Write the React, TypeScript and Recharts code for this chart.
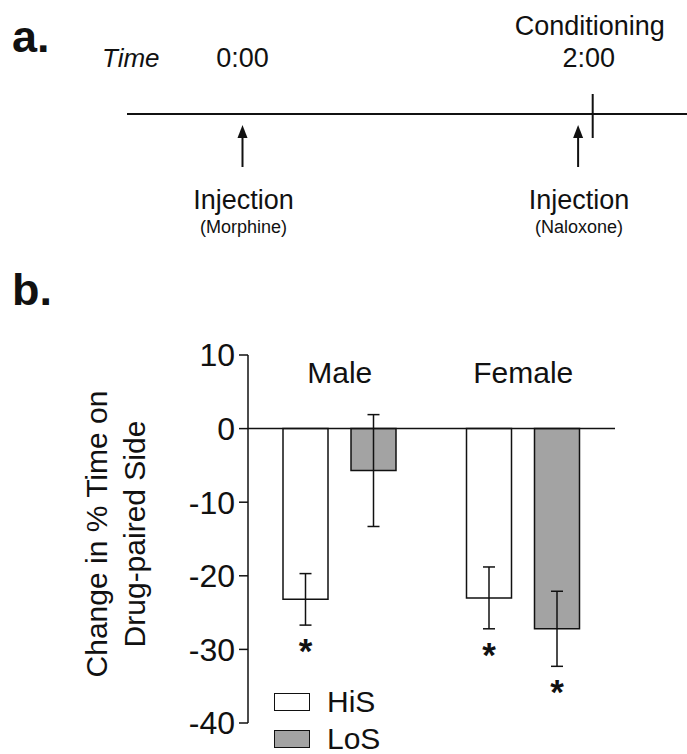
import React from 'react';
import { BarChart, Bar, XAxis, YAxis, ErrorBar, ReferenceLine, LabelList, Legend } from 'recharts';

// panel b data
const groups = ['Male', 'Female'];
const hisMean = [-23.2, -23.0];
const hisSem = [3.5, 4.2];
const losMean = [-5.7, -27.2];
const losSem = [7.6, 5.1];
const hisSig = [true, true];
const losSig = [false, true];
const yTicks = [-40, -30, -20, -10, 0, 10];

// panel a timeline (minutes)
const timeMarks = [
  { t: 0, label: '0:00', title: '' },
  { t: 120, label: '2:00', title: 'Conditioning' },
];
const injections = [
  { t: 0, name: 'Injection', drug: '(Morphine)' },
  { t: 115, name: 'Injection', drug: '(Naloxone)' },
];

const FONT = '"Liberation Sans", Arial, Helvetica, sans-serif';
const INK = '#111';
const GRAY = '#a3a3a3';

const data = groups.map((g, i) => ({
  group: g,
  HiS: hisMean[i],
  hisErr: hisSem[i],
  LoS: losMean[i],
  losErr: losSem[i],
}));

const timeToX = (t: number) => 242.5 + (t / 120) * 350.2;

function Timeline() {
  const lineY = 114;
  return (
    <svg width={687} height={330} style={{ position: 'absolute', left: 0, top: 0 }} fontFamily={FONT}>
      <text x={12} y={52} fontSize={45} fontWeight="bold" fill={INK}>a.</text>
      <text x={102} y={67} fontSize={26} fontStyle="italic" fill={INK}>Time</text>
      <line x1={127} y1={lineY} x2={687} y2={lineY} stroke={INK} strokeWidth={2} />
      {timeMarks.map((m) => {
        const x = timeToX(m.t);
        return (
          <g key={m.label}>
            {m.title && (
              <>
                <line x1={x} y1={94} x2={x} y2={138} stroke={INK} strokeWidth={2} />
                <text x={x - 3} y={35} fontSize={27} textAnchor="middle" fill={INK}>{m.title}</text>
              </>
            )}
            <text x={m.title ? x - 4 : x} y={67} fontSize={27} textAnchor="middle" fill={INK}>{m.label}</text>
          </g>
        );
      })}
      {injections.map((inj) => {
        const x = timeToX(inj.t);
        return (
          <g key={inj.drug}>
            <line x1={x} y1={167} x2={x} y2={134} stroke={INK} strokeWidth={2} />
            <polygon points={`${x},125 ${x - 5},138 ${x + 5},138`} fill={INK} />
            <text x={x + 1} y={209} fontSize={27} textAnchor="middle" fill={INK}>{inj.name}</text>
            <text x={x + 1} y={233} fontSize={18} textAnchor="middle" fill={INK}>{inj.drug}</text>
          </g>
        );
      })}
      <text x={12} y={305} fontSize={45} fontWeight="bold" fill={INK}>b.</text>
    </svg>
  );
}

const makeStar = (means: number[], errs: number[], sig: boolean[]) => (props: any) => {
  const i = props.index;
  if (!sig[i]) return null;
  const vb = props.viewBox || props;
  const { x, y, width, height } = vb;
  const bottom = Math.max(y, y + height);
  const pxPerUnit = Math.abs(height) / Math.abs(means[i]);
  const cy = bottom + errs[i] * pxPerUnit + 19;
  return (
    <text x={x + width / 2} y={cy + 19} fontSize={35} fontWeight="bold" textAnchor="middle" fill={INK} fontFamily={FONT}>
      *
    </text>
  );
};

const GroupTick = (props: any) => (
  <text x={props.x} y={props.y + 28} fontSize={30} textAnchor="middle" fill={INK} fontFamily={FONT}>
    {props.payload.value}
  </text>
);

const YLabel = (props: any) => {
  const vb = props.viewBox;
  const cx = vb.x - 61;
  const cy = vb.y + vb.height / 2 - 5;
  return (
    <text x={cx} y={cy} transform={`rotate(-90, ${cx}, ${cy})`} textAnchor="middle" fontSize={30} fill={INK} fontFamily={FONT}>
      <tspan x={cx} dy={0}>Change in % Time on</tspan>
      <tspan x={cx} dy={38}>Drug-paired Side</tspan>
    </text>
  );
};

const LegendBox = (props: any) => {
  const items = props.payload || [];
  return (
    <div style={{ fontFamily: FONT, color: INK }}>
      {items.map((p: any) => (
        <div key={p.value} style={{ display: 'flex', alignItems: 'center', height: 37 }}>
          <div
            style={{
              width: 34,
              height: 16,
              border: '1.5px solid #111',
              background: p.payload?.fill ?? p.color,
              marginRight: 17,
            }}
          />
          <span style={{ fontSize: 30, lineHeight: '28px' }}>{p.value}</span>
        </div>
      ))}
    </div>
  );
};

export default function App() {
  return (
    <div style={{ position: 'absolute', left: 0, top: 0, width: 687, height: 754, background: '#fff' }}>
      <Timeline />
      <div style={{ position: 'absolute', left: 0, top: 0 }}>
        <BarChart
          width={687}
          height={754}
          data={data}
          margin={{ top: 354, right: 72, bottom: 31, left: 168 }}
          barGap={23}
        >
          <XAxis
            dataKey="group"
            orientation="top"
            height={1}
            axisLine={false}
            tickLine={false}
            tickSize={0}
            tickMargin={0}
            tick={GroupTick}
          />
          <YAxis
            width={80}
            domain={[-40, 10]}
            ticks={yTicks}
            interval={0}
            tickSize={9}
            tickMargin={4}
            axisLine={{ stroke: INK, strokeWidth: 1.5 }}
            tickLine={{ stroke: INK, strokeWidth: 1.5 }}
            tick={{ fontSize: 32, fill: INK, fontFamily: FONT }}
            label={{ content: YLabel }}
          />
          <Bar dataKey="HiS" fill="#ffffff" stroke={INK} strokeWidth={1.5} barSize={45} isAnimationActive={false}>
            <ErrorBar dataKey="hisErr" width={6} stroke={INK} strokeWidth={1.5} direction="y" />
            <LabelList dataKey="HiS" content={makeStar(hisMean, hisSem, hisSig)} />
          </Bar>
          <Bar dataKey="LoS" fill={GRAY} stroke={INK} strokeWidth={1.5} barSize={45} isAnimationActive={false}>
            <ErrorBar dataKey="losErr" width={6} stroke={INK} strokeWidth={1.5} direction="y" />
            <LabelList dataKey="LoS" content={makeStar(losMean, losSem, losSig)} />
          </Bar>
          <ReferenceLine y={0} stroke={INK} strokeWidth={1.5} />
          <Legend
            layout="vertical"
            verticalAlign="middle"
            align="center"
            wrapperStyle={{ left: 274, top: 683, width: 140 }}
            content={LegendBox}
          />
        </BarChart>
      </div>
    </div>
  );
}
